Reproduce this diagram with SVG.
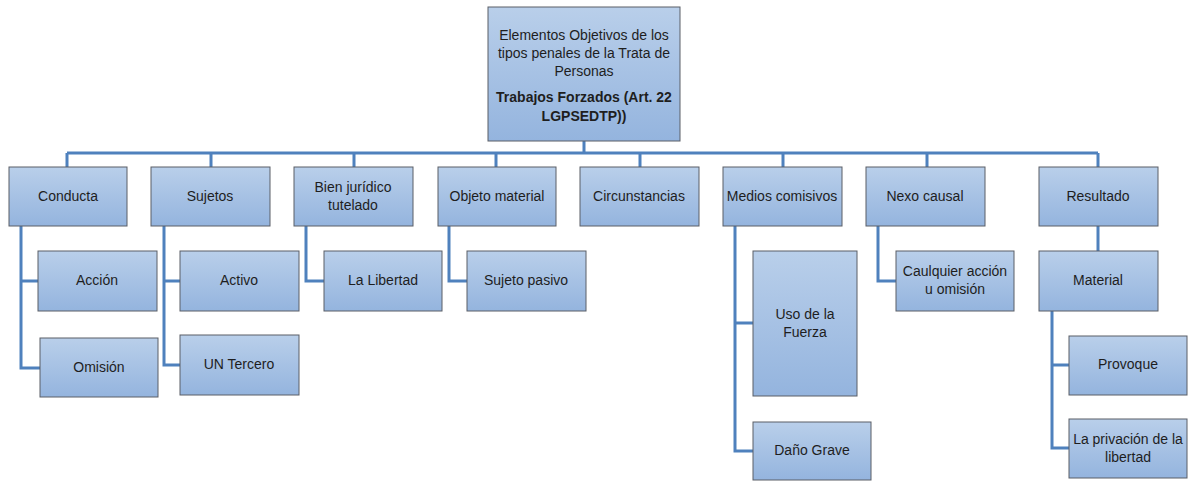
<svg xmlns="http://www.w3.org/2000/svg" width="1201" height="483" viewBox="0 0 1201 483">
<defs>
<linearGradient id="g" x1="0" y1="0" x2="0" y2="1">
<stop offset="0" stop-color="#B9CFEA"/>
<stop offset="1" stop-color="#94B4DE"/>
</linearGradient>
<style>
.b{fill:url(#g);stroke:#5A5E66;stroke-width:1}
.t{font-family:"Liberation Sans",Arial,sans-serif;font-size:14px;fill:#1E1E1E;text-anchor:middle}
.bd{font-weight:bold}
.c{fill:none;stroke:#4F81BD;stroke-width:3}
</style>
</defs>
<rect width="1201" height="483" fill="#FFFFFF"/>
<g id="connectors">
<path class="c" d="M584 141V153M67 153H1098M67 153V167M211 153V167M354 153V167M496 153V167M640 153V167M783 153V167M927 153V167M1098 153V167"/>
<path class="c" d="M21 226V368H40M21 281H38"/>
<path class="c" d="M164 226V365H180M164 281H180"/>
<path class="c" d="M306 226V281H324"/>
<path class="c" d="M449 226V281H467"/>
<path class="c" d="M735 226V451H753M735 323H753"/>
<path class="c" d="M878 226V281H896"/>
<path class="c" d="M1098 226V251"/>
<path class="c" d="M1052 311V448H1069M1052 365H1069"/>
</g>
<g id="root">
<rect class="b" x="488" y="7" width="192" height="134"/>
<text class="t" x="584" y="40">Elementos Objetivos de los</text>
<text class="t" x="584" y="58">tipos penales de la Trata de</text>
<text class="t" x="584" y="76">Personas</text>
<text class="t bd" x="584" y="102">Trabajos Forzados (Art. 22</text>
<text class="t bd" x="584" y="121">LGPSEDTP))</text>
</g>
<g id="conducta"><rect class="b" x="9" y="167" width="118" height="59"/><text class="t" x="68" y="201">Conducta</text></g>
<g id="sujetos"><rect class="b" x="151" y="167" width="119" height="59"/><text class="t" x="210" y="201">Sujetos</text></g>
<g id="bien"><rect class="b" x="294" y="167" width="119" height="59"/><text class="t" x="353" y="192">Bien jurídico</text><text class="t" x="353" y="210">tutelado</text></g>
<g id="objeto"><rect class="b" x="438" y="167" width="118" height="59"/><text class="t" x="497" y="201">Objeto material</text></g>
<g id="circunstancias"><rect class="b" x="580" y="167" width="119" height="59"/><text class="t" x="639" y="201">Circunstancias</text></g>
<g id="medios"><rect class="b" x="723" y="167" width="119" height="59"/><text class="t" x="782" y="201">Medios comisivos</text></g>
<g id="nexo"><rect class="b" x="866" y="167" width="119" height="59"/><text class="t" x="925" y="201">Nexo causal</text></g>
<g id="resultado"><rect class="b" x="1039" y="167" width="119" height="59"/><text class="t" x="1098" y="201">Resultado</text></g>
<g id="accion"><rect class="b" x="38" y="251" width="119" height="60"/><text class="t" x="97" y="285">Acción</text></g>
<g id="omision"><rect class="b" x="40" y="338" width="118" height="59"/><text class="t" x="99" y="372">Omisión</text></g>
<g id="activo"><rect class="b" x="180" y="251" width="119" height="60"/><text class="t" x="239" y="285">Activo</text></g>
<g id="tercero"><rect class="b" x="180" y="335" width="119" height="60"/><text class="t" x="239" y="369">UN Tercero</text></g>
<g id="libertad"><rect class="b" x="324" y="251" width="118" height="60"/><text class="t" x="383" y="285">La Libertad</text></g>
<g id="pasivo"><rect class="b" x="467" y="251" width="119" height="60"/><text class="t" x="526" y="285">Sujeto pasivo</text></g>
<g id="fuerza"><rect class="b" x="753" y="251" width="104" height="145"/><text class="t" x="805" y="319">Uso de la</text><text class="t" x="805" y="337">Fuerza</text></g>
<g id="dano"><rect class="b" x="753" y="422" width="118" height="58"/><text class="t" x="812" y="455">Daño Grave</text></g>
<g id="caulquier"><rect class="b" x="896" y="251" width="118" height="60"/><text class="t" x="955" y="276">Caulquier acción</text><text class="t" x="955" y="294">u omisión</text></g>
<g id="material"><rect class="b" x="1039" y="251" width="119" height="60"/><text class="t" x="1098" y="285">Material</text></g>
<g id="provoque"><rect class="b" x="1069" y="336" width="118" height="59"/><text class="t" x="1128" y="369">Provoque</text></g>
<g id="privacion"><rect class="b" x="1069" y="419" width="118" height="59"/><text class="t" x="1128" y="444">La privación de la</text><text class="t" x="1128" y="462">libertad</text></g>
</svg>
